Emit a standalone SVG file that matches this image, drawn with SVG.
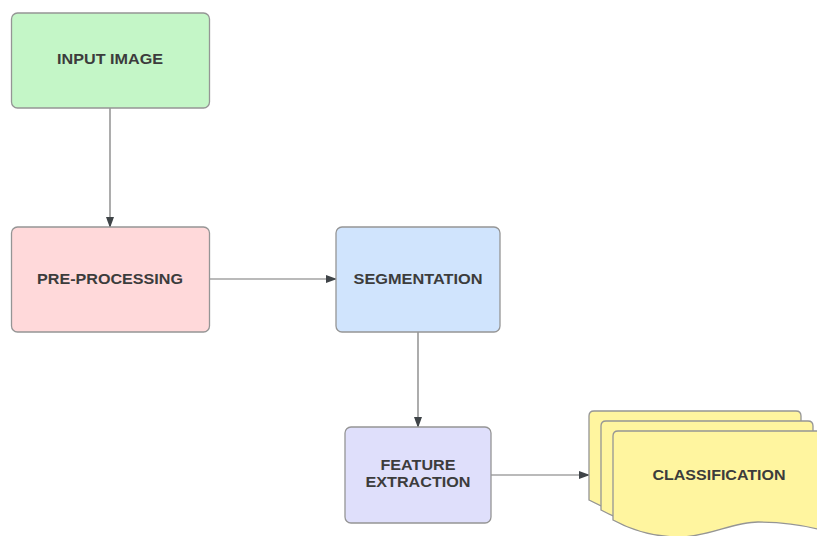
<svg xmlns="http://www.w3.org/2000/svg" width="817" height="536" viewBox="0 0 817 536">
<style>
.box{stroke:#959595;stroke-width:1.3}
.lbl{font-family:"Liberation Sans",Arial,sans-serif;font-weight:bold;font-size:15px;fill:#3c3c3c;text-anchor:middle}
.edge{stroke:#767676;stroke-width:1.2;fill:none}
</style>
<defs>
<marker id="arr" markerWidth="11" markerHeight="8" refX="10" refY="4" orient="auto" markerUnits="userSpaceOnUse">
<path d="M0,0 L11,4 L0,8 Z" fill="#3f4448"/>
</marker>
<path id="doc" d="M0,5 Q0,0 5,0 L207,0 Q212,0 212,5 L212,100 C185,92 160,91 145,91 C120,91 95,106 67,106 C40,106 20,100 0,89 Z"/>
</defs>
<rect width="817" height="536" fill="#ffffff"/>
<g id="connectors">
<path class="edge" d="M110,108 L110,227" marker-end="url(#arr)"/>
<path class="edge" d="M210,279 L336,279" marker-end="url(#arr)"/>
<path class="edge" d="M418,332 L418,427" marker-end="url(#arr)"/>
<path class="edge" d="M491,475 L589,475" marker-end="url(#arr)"/>
</g>
<g id="input-image">
<rect class="box" x="11.5" y="13" width="198" height="95" rx="6" fill="#c4f6c7"/>
<text class="lbl" x="110" y="64" textLength="106" lengthAdjust="spacingAndGlyphs">INPUT IMAGE</text>
</g>
<g id="pre-processing">
<rect class="box" x="11.5" y="227" width="198" height="105" rx="6" fill="#ffd9da"/>
<text class="lbl" x="110" y="284" textLength="146" lengthAdjust="spacingAndGlyphs">PRE-PROCESSING</text>
</g>
<g id="segmentation">
<rect class="box" x="336" y="227" width="164" height="105" rx="6" fill="#d0e4fd"/>
<text class="lbl" x="418" y="284" textLength="129" lengthAdjust="spacingAndGlyphs">SEGMENTATION</text>
</g>
<g id="feature-extraction">
<rect class="box" x="345" y="427" width="146" height="96" rx="6" fill="#dfdffb"/>
<text class="lbl" x="418" y="470" textLength="75" lengthAdjust="spacingAndGlyphs">FEATURE</text>
<text class="lbl" x="418" y="487" textLength="105" lengthAdjust="spacingAndGlyphs">EXTRACTION</text>
</g>
<g id="classification">
<use href="#doc" x="589" y="411" class="box" fill="#fff59f"/>
<use href="#doc" x="601" y="421" class="box" fill="#fff59f"/>
<use href="#doc" x="613" y="431" class="box" fill="#fff59f"/>
<text class="lbl" x="719" y="480" textLength="133" lengthAdjust="spacingAndGlyphs">CLASSIFICATION</text>
</g>
</svg>
